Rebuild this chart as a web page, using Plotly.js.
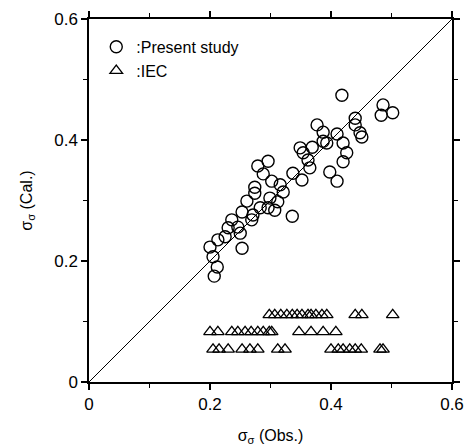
<!DOCTYPE html>
<html>
<head>
<meta charset="utf-8">
<script src="https://cdn.plot.ly/plotly-3.0.1.min.js"></script>
<style>html,body{margin:0;padding:0;background:#fff;}#chart{width:467px;height:446px;}</style>
</head>
<body>
<div id="chart"></div>
<script>
// Present study: observed vs calculated
const presentObs = [0.418,0.486,0.483,0.502,0.440,0.377,0.440,0.387,0.410,0.448,0.451,0.387,0.393,0.420,0.426,0.369,0.349,0.354,0.420,0.362,0.365,0.398,0.410,0.352,0.296,0.279,0.288,0.337,0.302,0.274,0.316,0.321,0.274,0.261,0.299,0.312,0.283,0.307,0.271,0.336,0.253,0.269,0.236,0.230,0.246,0.250,0.225,0.213,0.200,0.205,0.212,0.207,0.253,0.296];
const presentCal = [0.474,0.458,0.441,0.445,0.436,0.425,0.425,0.413,0.410,0.412,0.405,0.398,0.395,0.395,0.379,0.388,0.387,0.379,0.364,0.367,0.354,0.347,0.332,0.334,0.365,0.357,0.344,0.345,0.332,0.322,0.326,0.314,0.312,0.299,0.304,0.298,0.288,0.284,0.276,0.274,0.281,0.268,0.268,0.255,0.256,0.246,0.240,0.235,0.223,0.207,0.190,0.175,0.221,0.288];
// IEC: observed vs calculated
const iecObs = [0.298,0.307,0.317,0.327,0.336,0.344,0.352,0.362,0.367,0.375,0.385,0.393,0.440,0.451,0.502,
                0.200,0.213,0.236,0.246,0.258,0.268,0.279,0.288,0.298,0.302,0.347,0.367,0.387,0.408,
                0.205,0.215,0.230,0.253,0.266,0.279,0.312,0.324,0.400,0.412,0.420,0.431,0.440,0.450,0.481,0.486];
const iecCal = [0.111,0.111,0.111,0.111,0.111,0.111,0.111,0.111,0.111,0.111,0.111,0.111,0.111,0.111,0.111,
                0.083,0.083,0.083,0.083,0.083,0.083,0.083,0.083,0.083,0.083,0.083,0.083,0.083,0.083,
                0.054,0.054,0.054,0.054,0.054,0.054,0.054,0.054,0.054,0.054,0.054,0.054,0.054,0.054,0.054,0.054];
const lineX = [0, 0.6];
const lineY = [0, 0.6];
const tickVals = [0, 0.2, 0.4, 0.6];
const tickText = ['0', '0.2', '0.4', '0.6'];

const fontFam = 'Liberation Sans, Arial, sans-serif';
const traces = [
  {x: lineX, y: lineY, mode: 'lines', line: {color: '#000', width: 1}, showlegend: false, hoverinfo: 'skip'},
  {x: presentObs, y: presentCal, mode: 'markers', name: ':Present study',
   marker: {symbol: 'circle-open', size: 12, color: '#000', line: {width: 1.4, color: '#000'}}},
  {x: iecObs, y: iecCal, mode: 'markers', name: ':IEC',
   marker: {symbol: 'triangle-up-open', size: 11, color: '#000', line: {width: 1.3, color: '#000'}}}
];
const axisCommon = {
  range: [0, 0.6], tickvals: tickVals, ticktext: tickText,
  showgrid: false, zeroline: false, showline: true, linecolor: '#000', linewidth: 1.6,
  mirror: 'allticks', ticks: 'outside', ticklen: 6, tickwidth: 1.4, tickcolor: '#000',
  minor: {dtick: 0.1, tick0: 0, ticks: 'outside', ticklen: 4, tickwidth: 1.2, tickcolor: '#000'},
  tickfont: {family: fontFam, size: 17, color: '#000'}
};
const layout = {
  width: 467, height: 446,
  margin: {l: 89, r: 15, t: 19, b: 64},
  paper_bgcolor: '#fff', plot_bgcolor: '#fff',
  font: {family: fontFam, color: '#000'},
  xaxis: Object.assign({}, axisCommon, {title: {text: 'σ<sub>σ</sub> (Obs.)', font: {size: 16, color: '#000', family: fontFam}, standoff: 18}}),
  yaxis: Object.assign({}, axisCommon, {title: {text: 'σ<sub>σ</sub> (Cal.)', font: {size: 16, color: '#000', family: fontFam}, standoff: 18}}),
  legend: {x: 0.02, y: 0.97, xanchor: 'left', yanchor: 'top', bgcolor: 'rgba(0,0,0,0)',
           font: {size: 16, color: '#000', family: fontFam}, itemwidth: 30, tracegroupgap: 0},
  showlegend: true
};
Plotly.newPlot('chart', traces, layout, {staticPlot: true});
</script>
</body>
</html>
